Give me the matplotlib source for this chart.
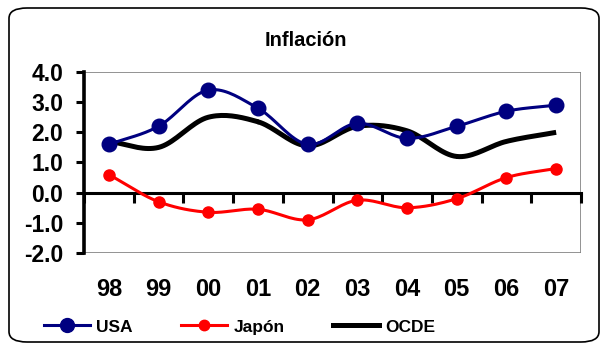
import numpy as np
import matplotlib.pyplot as plt
from matplotlib.patches import FancyBboxPatch, Rectangle
from matplotlib.lines import Line2D

plt.rcParams['font.family'] = ['Liberation Sans', 'DejaVu Sans']
plt.rcParams['font.weight'] = 'bold'

years = ['98', '99', '00', '01', '02', '03', '04', '05', '06', '07']
usa = [1.6, 2.2, 3.4, 2.8, 1.6, 2.3, 1.8, 2.2, 2.7, 2.9]
japon = [0.6, -0.3, -0.65, -0.55, -0.9, -0.25, -0.5, -0.2, 0.5, 0.8]
ocde = [1.7, 1.5, 2.5, 2.35, 1.55, 2.2, 2.05, 1.2, 1.7, 2.0]


def smooth(y, n=20):
    # Catmull-Rom curve through the points, like Excel's smoothed line
    x = np.arange(len(y), dtype=float)
    y = np.asarray(y, dtype=float)
    px = np.concatenate([[2 * x[0] - x[1]], x, [2 * x[-1] - x[-2]]])
    py = np.concatenate([[2 * y[0] - y[1]], y, [2 * y[-1] - y[-2]]])
    xs, ys = [], []
    t = np.linspace(0, 1, n)
    for i in range(1, len(px) - 2):
        for p, out in ((px, xs), (py, ys)):
            p0, p1, p2, p3 = p[i - 1], p[i], p[i + 1], p[i + 2]
            out.extend(0.5 * ((2 * p1) + (-p0 + p2) * t
                              + (2 * p0 - 5 * p1 + 4 * p2 - p3) * t ** 2
                              + (-p0 + 3 * p1 - 3 * p2 + p3) * t ** 3))
    return np.array(xs), np.array(ys)


fig = plt.figure(figsize=(6.02, 3.45), dpi=100)
ax = fig.add_axes([84 / 602, 1 - 253 / 345, (581 - 84) / 602, (253 - 72) / 345])

x = np.arange(len(years))
navy = '#000080'
red = '#ff0000'

sx, sy = smooth(ocde)
ax.plot(sx, sy, color='black', lw=3.6, zorder=3, solid_capstyle='butt')
sx, sy = smooth(japon)
ax.plot(sx, sy, color=red, lw=2.2, zorder=4)
ax.plot(x, japon, 'o', color=red, ms=8, zorder=5)
sx, sy = smooth(usa)
ax.plot(sx, sy, color=navy, lw=2.2, zorder=4)
ax.plot(x, usa, 'o', color=navy, ms=10.5, zorder=5)

ax.set_xlim(-0.5, len(years) - 0.5)
ax.set_ylim(-2, 4)
ax.set_yticks(np.arange(-2, 4.1, 1))
ax.set_yticklabels(['%.1f' % v for v in np.arange(-2, 4.1, 1)], fontsize=16.5, fontweight='bold')
ax.tick_params(axis='y', direction='out', length=6, width=2.2, pad=9)

# x axis crosses at zero, ticks between categories
ax.spines['bottom'].set_position(('data', 0))
ax.spines['bottom'].set_linewidth(2.2)
ax.set_xticks(np.arange(-0.5, len(years), 1))
ax.set_xticklabels([])
ax.tick_params(axis='x', direction='out', length=7, width=2.2)
ax.spines['left'].set_linewidth(2.6)
ax.spines['top'].set_visible(False)
ax.spines['right'].set_visible(False)
ax.add_patch(Rectangle((0, 0), 1, 1, transform=ax.transAxes, fill=False,
                       edgecolor='#808080', lw=1.2, zorder=0))

for i, lab in enumerate(years):
    ax.text(i, -0.2, lab, transform=ax.get_xaxis_transform(), ha='center',
            va='center', fontsize=17, fontweight='bold')

fig.text(306 / 602, 1 - 41 / 345, 'Inflación', ha='center', va='center',
         fontsize=14.5, fontweight='bold')

handles = [Line2D([], [], color=navy, lw=2.2, marker='o', ms=10),
           Line2D([], [], color=red, lw=2.2, marker='o', ms=7.5),
           Line2D([], [], color='black', lw=3.6)]
fig.legend(handles, ['USA', 'Japón', 'OCDE'], loc='center left',
           bbox_to_anchor=(44 / 602, 1 - 327 / 345), ncol=3, frameon=False,
           handlelength=2.65, columnspacing=2.8, handletextpad=0.35,
           borderpad=0, borderaxespad=0,
           prop={'weight': 'bold', 'size': 12.5})

fig.patches.append(FancyBboxPatch((9 / 602, 3 / 345), 590 / 602, 334 / 345,
                                  boxstyle='round,pad=0,rounding_size=0.03',
                                  transform=fig.transFigure, fill=False,
                                  edgecolor='black', lw=1.2))

fig.savefig('out.png', dpi=100)
